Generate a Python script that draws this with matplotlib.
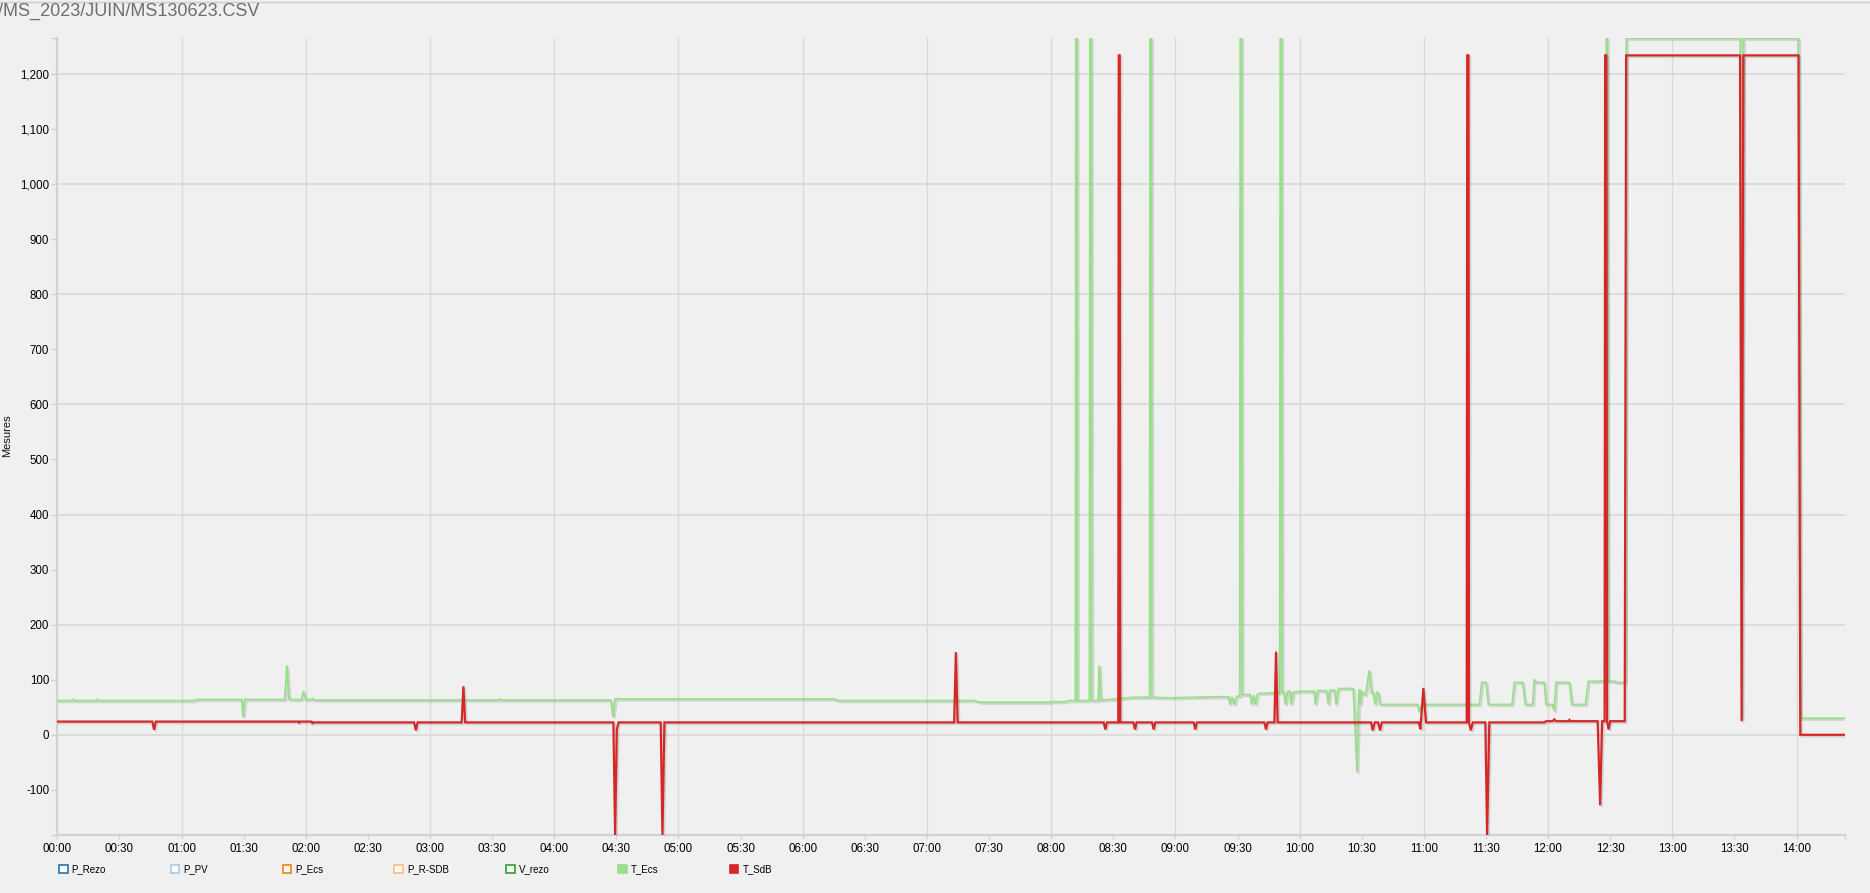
import matplotlib
matplotlib.use("Agg")
import matplotlib.pyplot as plt
from matplotlib import patheffects as pe
from matplotlib.patches import Rectangle
from matplotlib.lines import Line2D

plt.rcParams["font.family"] = ["Liberation Sans", "DejaVu Sans"]

# ---------------- data ----------------
TITLE = "/MS_2023/JUIN/MS130623.CSV"
Y_LABEL = "Mesures"

LEGEND_LABELS = ["P_Rezo", "P_PV", "P_Ecs", "P_R-SDB", "V_rezo", "T_Ecs", "T_SdB"]
LEGEND_COLORS = ["#1f77b4", "#aec7e8", "#ff7f0e", "#ffbb78", "#2ca02c", "#98df8a", "#d62728"]
LEGEND_FILLED = [False, False, False, False, False, True, True]

# time in hours since 00:00
T_ECS_TIME = [0.000, 0.110, 0.121, 0.135, 0.310, 0.322, 0.335,
              1.100, 1.125, 1.485, 1.495, 1.510, 1.525,
              1.831, 1.847, 1.866, 1.965, 1.981, 1.998,
              2.045, 2.053, 2.065, 3.550, 3.562, 3.575,
              4.456, 4.474, 4.490, 6.254, 6.288, 7.381, 7.435,
              7.985, 8.000, 8.119, 8.146,
              8.195, 8.199, 8.207, 8.211,
              8.308, 8.312, 8.322, 8.326,
              8.379, 8.387, 8.400, 8.530, 8.656,
              8.792, 8.796, 8.806, 8.810,
              8.950, 9.138, 9.353,
              9.428, 9.439, 9.455, 9.474, 9.493,
              9.518, 9.522, 9.532, 9.536,
              9.600, 9.614, 9.630, 9.645, 9.660, 9.675,
              9.783, 9.840, 9.844, 9.854, 9.858, 9.874, 9.885, 9.905, 9.922, 9.931, 9.949,
              10.000, 10.118, 10.126, 10.145, 10.217, 10.231, 10.245, 10.282, 10.293, 10.312,
              10.432, 10.462, 10.475, 10.482, 10.490, 10.500, 10.510, 10.530, 10.561, 10.580,
              10.590, 10.609, 10.622, 10.636, 10.647, 10.950, 10.964, 10.983,
              11.447, 11.466, 11.501, 11.520, 11.710, 11.729, 11.795, 11.817,
              11.876, 11.889, 11.905, 11.970, 11.983, 12.037, 12.050, 12.064,
              12.171, 12.191, 12.300, 12.324, 12.410, 12.420, 12.430, 12.456, 12.462,
              12.468, 12.476, 12.482, 12.540, 12.550, 12.622, 12.630,
              13.547, 13.558, 13.572, 14.016, 14.030, 14.390]
T_ECS_VALUE = [62, 62, 64, 62, 62, 64, 62,
               62, 64, 64, 32, 65, 64,
               64, 126, 64, 64, 79, 64,
               64, 66, 63, 63, 65, 63,
               63, 32, 65, 65, 62, 62, 59,
               59, 60, 60, 62,
               62, 1265, 1265, 62,
               62, 1265, 1265, 62,
               62, 126, 63, 65, 68,
               68, 1265, 1265, 68,
               67, 68, 69,
               69, 55, 69, 55, 70,
               70, 1265, 1265, 73,
               73, 55, 72, 55, 73, 75,
               76, 76, 1265, 1265, 78, 78, 55, 79, 79, 55, 77,
               79, 79, 55, 80, 80, 55, 81, 81, 55, 84,
               84, -68, 70, 83, 55, 80, 75, 72, 117, 75,
               78, 55, 78, 75, 55, 55, 41, 55,
               55, 95, 95, 55, 55, 95, 95, 55,
               55, 101, 95, 95, 55, 55, 43, 95,
               95, 55, 55, 97, 97, 99, 97, 97, 55,
               1265, 1265, 97, 97, 95, 95, 1265,
               1265, 30, 1265, 1265, 30, 30]

T_SDB_TIME = [0.000, 0.765, 0.779, 0.793, 1.940, 1.946, 1.952, 2.045, 2.053, 2.061,
              2.872, 2.886, 2.900, 3.255, 3.269, 3.283,
              4.476, 4.490, 4.504, 4.518, 4.857, 4.871, 4.887,
              7.219, 7.233, 7.247,
              8.423, 8.436, 8.449, 8.540, 8.544, 8.552, 8.556,
              8.662, 8.675, 8.688, 8.812, 8.825, 8.838, 9.147, 9.160, 9.173,
              9.716, 9.729, 9.742, 9.797, 9.810, 9.823,
              10.575, 10.588, 10.605, 10.632, 10.647, 10.662,
              10.960, 10.972, 10.996, 11.017,
              11.345, 11.349, 11.359, 11.363, 11.378, 11.394,
              11.495, 11.509, 11.527, 11.970, 11.983, 12.037, 12.050, 12.064,
              12.164, 12.172, 12.180, 12.399, 12.419, 12.435,
              12.455, 12.459, 12.469, 12.475, 12.487, 12.500, 12.617, 12.628,
              13.545, 13.558, 13.572, 14.016, 14.030, 14.390]
T_SDB_VALUE = [24, 24, 9, 24, 24, 21, 24, 24, 21, 22.5,
               22.5, 8, 22.5, 22.5, 88, 22.5,
               22.5, -182, 10, 22.5, 22.5, -182, 22.5,
               22.5, 150, 22.5,
               22.5, 9.6, 22.5, 22.5, 1234, 1234, 22.5,
               22.5, 9.6, 22.5, 22.5, 9.6, 22.5, 22.5, 9.6, 22.5,
               22.5, 9.6, 22.5, 22.5, 151, 22.5,
               22.5, 8, 22.5, 22.5, 8, 22.5,
               22.5, 10, 85, 22.5,
               22.5, 1234, 1234, 22.5, 8, 22.5,
               22.5, -182, 22.5, 22.5, 24.7, 24.7, 28, 24.7,
               24.7, 27, 24.7, 24.7, -128, 24.7,
               24.7, 1234, 1234, 24.7, 9.6, 24.7, 24.7, 1234,
               1234, 24.7, 1234, 1234, 0, 0]

X_TICKS = [0.0, 0.5, 1.0, 1.5, 2.0, 2.5, 3.0, 3.5, 4.0, 4.5, 5.0, 5.5, 6.0, 6.5,
           7.0, 7.5, 8.0, 8.5, 9.0, 9.5, 10.0, 10.5, 11.0, 11.5, 12.0, 12.5, 13.0, 13.5, 14.0]
X_TICK_LABELS = ["00:00", "00:30", "01:00", "01:30", "02:00", "02:30", "03:00", "03:30",
                 "04:00", "04:30", "05:00", "05:30", "06:00", "06:30", "07:00", "07:30",
                 "08:00", "08:30", "09:00", "09:30", "10:00", "10:30", "11:00", "11:30",
                 "12:00", "12:30", "13:00", "13:30", "14:00"]
X_GRID = [1, 2, 3, 4, 5, 6, 7, 8, 9, 10, 11, 12, 13, 14]
Y_TICKS = [-100, 0, 100, 200, 300, 400, 500, 600, 700, 800, 900, 1000, 1100, 1200]
Y_TICK_LABELS = ["-100", "0", "100", "200", "300", "400", "500", "600", "700", "800",
                 "900", "1,000", "1,100", "1,200"]
Y_GRID = [0, 200, 400, 600, 800, 1000, 1200]
X_MIN, X_MAX = 0.0, 14.39
Y_MIN, Y_MAX = -182, 1265

# ---------------- figure ----------------
W, H = 1870, 893
BG = "#f0f0f0"
fig = plt.figure(figsize=(W / 100, H / 100), dpi=100, facecolor=BG)

L, R, B, T = 57.3, 1845, 835, 38.3
ax = fig.add_axes([L / W, 1 - B / H, (R - L) / W, (B - T) / H], facecolor=BG)
ax.set_xlim(X_MIN, X_MAX)
ax.set_ylim(Y_MIN, Y_MAX)

grid_c = "#dadada"
for g in X_GRID:
    ax.axvline(g, color=grid_c, lw=1.0, zorder=0.5)
for g in Y_GRID:
    ax.axhline(g, color=grid_c, lw=1.3, zorder=0.5)

shadow = [pe.SimpleLineShadow(offset=(1.2, -1.2), shadow_color="black", alpha=0.12), pe.Normal()]
ax.plot(T_ECS_TIME, T_ECS_VALUE, color=LEGEND_COLORS[5], lw=1.3, zorder=3,
        solid_joinstyle="miter", path_effects=shadow)
ax.plot(T_SDB_TIME, T_SDB_VALUE, color=LEGEND_COLORS[6], lw=1.6, zorder=4,
        solid_joinstyle="miter", path_effects=shadow)

spine_c = "#d2d2d2"
for s in ["top", "right"]:
    ax.spines[s].set_visible(False)
for s in ["left", "bottom"]:
    ax.spines[s].set_color(spine_c)
    ax.spines[s].set_linewidth(1.6)

ax.set_xticks(X_TICKS)
ax.set_xticklabels(X_TICK_LABELS)
ax.set_yticks(Y_TICKS)
ax.set_yticklabels(Y_TICK_LABELS)
ax.set_xticks([X_MIN, X_MAX], minor=True)
ax.set_yticks([Y_MIN, Y_MAX], minor=True)
ax.tick_params(axis="both", which="both", color=spine_c, width=1.0, labelsize=8.3,
               labelcolor="#000000")
ax.tick_params(axis="x", which="both", length=3, pad=3)
ax.tick_params(axis="y", which="both", length=4.3, pad=1.5)

# title and y label
fig.text(-2 / W, 1 - 15.5 / H, TITLE, fontsize=13, color="#6e6e6e",
         ha="left", va="baseline")
fig.add_artist(Line2D([0, 1], [1 - 2 / H, 1 - 2 / H], color="#cccccc", lw=1.0,
                      transform=fig.transFigure))
fig.text(7 / W, 1 - 436 / H, Y_LABEL, rotation=90, fontsize=8, color="#111111",
         ha="center", va="center")

# legend
leg_x0, leg_dx, leg_y = 59, 111.8, 869
sq = 8.5
for i, (lab, col, filled) in enumerate(zip(LEGEND_LABELS, LEGEND_COLORS, LEGEND_FILLED)):
    x = leg_x0 + i * leg_dx
    fig.add_artist(Rectangle(((x) / W, 1 - (leg_y + sq / 2) / H), sq / W, sq / H,
                             transform=fig.transFigure,
                             facecolor=col if filled else "#ffffff",
                             edgecolor=col, lw=1.2))
    fig.text((x + sq + 4) / W, 1 - leg_y / H, lab, fontsize=7, color="#000000",
             ha="left", va="center")

fig.savefig("out.png", dpi=100, facecolor=BG)
